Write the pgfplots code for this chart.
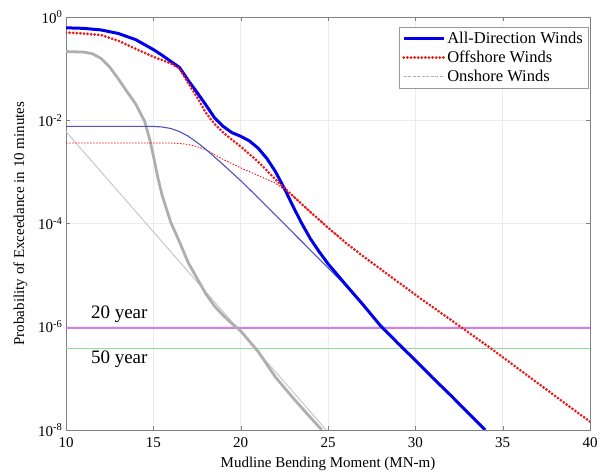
\documentclass[border=0pt]{standalone}
\usepackage{fontspec}
\setmainfont{Liberation Serif}
\usepackage{pgfplots}
\pgfplotsset{compat=1.18}

\newcommand\lbl{\fontsize{15bp}{18bp}\selectfont}

\definecolor{alldir}{RGB}{0,0,235}
\definecolor{alldirfit}{RGB}{80,80,195}
\definecolor{offred}{RGB}{240,20,20}
\definecolor{onshore}{RGB}{175,175,175}
\definecolor{onshorefit}{RGB}{195,195,195}
\definecolor{yrtwenty}{RGB}{215,125,235}
\definecolor{yrfifty}{RGB}{150,220,150}

\begin{document}
\begin{tikzpicture}
\begin{axis}[
    at={(0,0)}, anchor=south west,
    width=524bp, height=413bp, scale only axis,
    set layers, axis on top=false,
    ymode=log,
    xmin=10, xmax=40,
    ymin=1e-8, ymax=1,
    xtick={10,15,20,25,30,35,40},
    ytick={1e-8,1e-6,1e-4,1e-2,1},
    yticklabels={10\textsuperscript{-8},10\textsuperscript{-6},10\textsuperscript{-4},10\textsuperscript{-2},10\textsuperscript{0}},
    yminorticks=false,
    /pgf/number format/assume math mode=true,
    tick label style={font=\lbl},
    xticklabel style={yshift=-4bp},
    xlabel={Mudline Bending Moment (MN-m)},
    ylabel={Probability of Exceedance in 10 minutes},
    label style={font=\lbl},
    xlabel style={yshift=-3bp},
    ylabel style={yshift=4bp},
    axis line style={gray},
    tick style={gray},
    major tick length=4bp,
    tick align=inside,
    grid=major,
    major grid style={gray!15, line width=0.6bp},
    legend style={at={(0.996,0.976)}, anchor=north east, draw=gray!80,
        font=\fontsize{16.5bp}{19bp}\selectfont, row sep=2bp, inner sep=3bp},
    legend cell align=left,
    legend image code/.code={\draw[#1] (0bp,0bp) -- (40bp,0bp);},
]
\addlegendimage{alldir, line width=3bp}
\addlegendentry{All-Direction Winds}
\addlegendimage{offred, line width=3bp, dash pattern=on 0bp off 3.6bp, line cap=round}
\addlegendentry{Offshore Winds}
\addlegendimage{onshore, line width=1.2bp, dash pattern=on 3bp off 1.5bp}
\addlegendentry{Onshore Winds}

% return period levels
\addplot[draw=yrtwenty, line width=1.2bp, forget plot] coordinates {(10,9.45e-7) (40,9.45e-7)};
\addplot[draw=yrfifty, line width=1.1bp, forget plot] coordinates {(10,3.81e-7) (40,3.81e-7)};

% onshore fit
\addplot[onshorefit, line width=0.9bp, forget plot] coordinates {(10,6.03e-3) (24.9,1e-8)};
% onshore data
\addplot[onshore, line width=2.8bp, forget plot] coordinates {
(10,0.214) (11,0.209) (11.5,0.195) (12,0.158) (12.5,0.107) (13,6.31e-2)
(13.5,3.55e-2) (14,2.04e-2) (14.5,9.55e-3) (14.8,4.17e-3) (15,2.09e-3)
(15.25,7.94e-4) (15.5,3.55e-4) (16,1.05e-4) (16.5,4.37e-5) (17,1.74e-5)
(17.5,8.71e-6) (18,4.37e-6) (18.5,2.51e-6) (19,1.66e-6) (19.5,1.15e-6)
(20,8.32e-7) (21,3.31e-7) (22,1.05e-7) (23,4.17e-8) (24,1.74e-8) (24.65,1e-8)
};

% offshore fit
\addplot[offred, line width=0.9bp, dash pattern=on 1.5bp off 1.5bp, forget plot] coordinates {
(10,3.63e-3) (16,3.63e-3) (16.5,3.55e-3) (17,3.39e-3) (17.5,3.09e-3)
(18,2.69e-3) (19,1.74e-3) (20,1.20e-3) (21,8.51e-4) (22,6.03e-4)
(23,3.39e-4) (24,1.66e-4) (25,8.32e-5) (26,4.27e-5)
};

% all-direction fit
\addplot[alldirfit, line width=1.1bp, forget plot] coordinates {
(10,7.59e-3) (15,7.59e-3) (15.5,7.41e-3) (16,6.92e-3) (16.5,6.03e-3)
(17,4.90e-3) (17.5,3.72e-3) (18,2.75e-3) (19,1.38e-3) (20,6.76e-4)
(21,3.16e-4) (22,1.45e-4) (23,6.61e-5) (24,3.02e-5) (25,1.38e-5)
(26,6.31e-6) (27,2.63e-6)
};

% all-direction data
\addplot[alldir, line width=3bp, forget plot] coordinates {
(10,0.617) (11,0.603) (12,0.562) (13,0.479) (14,0.363) (15,0.234)
(15.5,0.182) (16,0.138) (16.5,0.105) (17,5.89e-2) (17.5,3.47e-2)
(18,2.0e-2) (18.5,1.12e-2) (19,7.59e-3) (19.5,5.75e-3) (20,4.90e-3)
(20.5,3.98e-3) (21,2.88e-3) (21.5,1.82e-3) (22,1.0e-3) (22.5,4.79e-4)
(23,2.14e-4) (23.5,1.0e-4) (24,5.01e-5) (24.5,2.82e-5) (25,1.66e-5)
(25.5,1.05e-5) (26,6.61e-6) (27,2.69e-6) (28,1.05e-6) (29,4.79e-7)
(30,2.24e-7) (31,1.02e-7) (32,4.79e-8) (33,2.19e-8) (34,1.0e-8)
};

% offshore data
\addplot[offred, line width=3bp, dash pattern=on 0bp off 3.6bp, line cap=round, forget plot] coordinates {
(10,0.501) (11,0.479) (12,0.447) (13,0.347) (14,0.240) (15,0.170)
(16,0.126) (16.5,0.100) (17,5.25e-2) (17.5,2.82e-2) (18,1.41e-2)
(18.5,8.51e-3) (19,5.75e-3) (20,3.09e-3) (21,1.58e-3) (22,7.08e-4)
(23,3.39e-4) (24,1.66e-4) (25,8.32e-5) (26,4.27e-5) (27,2.34e-5)
(28,1.32e-5) (29,7.41e-6) (30,4.17e-6) (31,2.40e-6) (32,1.38e-6)
(33,7.94e-7) (34,4.57e-7) (35,2.57e-7) (36,1.45e-7) (37,8.13e-8)
(38,4.57e-8) (39,2.57e-8) (40,1.45e-8)
};

\node[font=\fontsize{19bp}{22bp}\selectfont] at (axis cs:13.05,1.75e-6) {20 year};
\node[font=\fontsize{19bp}{22bp}\selectfont] at (axis cs:13.05,2.4e-7) {50 year};
\end{axis}
\pgfresetboundingbox
\path (-66bp,-45bp) rectangle (547bp,430bp);
\end{tikzpicture}
\end{document}
